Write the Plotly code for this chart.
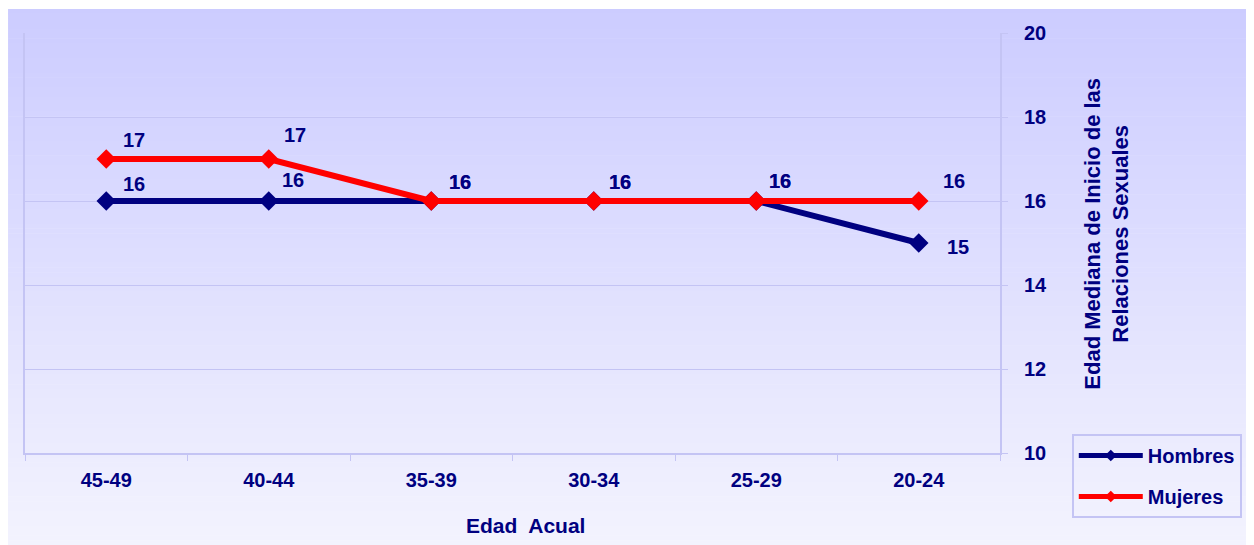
import plotly.graph_objects as go

categories = ["45-49", "40-44", "35-39", "30-34", "25-29", "20-24"]
hombres = [16, 16, 16, 16, 16, 15]
mujeres = [17, 17, 16, 16, 16, 16]
y_ticks = [10, 12, 14, 16, 18, 20]

NAVY = "#000080"
RED = "#FF0000"
GRID = "#C4C4F4"
FONT = "Arial, Liberation Sans, sans-serif"

# label offsets in pixels (style only)
h_dx = [28, 24, 29, 26, 24, 39]
h_dy = [17, 21, 19, 19, 20, -4]
m_dx = [28, 26, 29, 26, 24, 35]
m_dy = [19, 24, 19, 19, 20, 20]

W, H = 1246, 537          # page is offset 8px by body margin
L, T, PW, PH = 17, 25, 978, 420

fig = go.Figure()

fig.add_trace(go.Scatter(
    x=categories, y=hombres, mode="lines+markers", name="Hombres",
    line=dict(color=NAVY, width=6), marker=dict(symbol="diamond", size=15, color=NAVY),
    showlegend=False, cliponaxis=False,
))
fig.add_trace(go.Scatter(
    x=categories, y=mujeres, mode="lines+markers", name="Mujeres",
    line=dict(color=RED, width=6), marker=dict(symbol="diamond", size=15, color=RED),
    showlegend=False, cliponaxis=False,
))
# legend entries
fig.add_trace(go.Scatter(
    x=[None], y=[None], mode="lines+markers", name="Hombres", legendgroup="h",
    line=dict(color=NAVY, width=5), marker=dict(symbol="diamond", size=9, color=NAVY),
))
fig.add_trace(go.Scatter(
    x=[None], y=[None], mode="lines+markers", name="Mujeres", legendgroup="m",
    line=dict(color=RED, width=5), marker=dict(symbol="diamond", size=9, color=RED),
))

annotations = []
label_font = dict(family=FONT, size=20, color=NAVY, weight="bold")
for series, dxs, dys in ((hombres, h_dx, h_dy), (mujeres, m_dx, m_dy)):
    for cat, v, dx, dy in zip(categories, series, dxs, dys):
        annotations.append(dict(
            x=cat, y=v, xref="x", yref="y", text=str(v), showarrow=False,
            xanchor="center", yanchor="middle", xshift=dx, yshift=dy, font=label_font,
        ))

annotations.append(dict(
    text="Edad Mediana de Inicio de las<br>Relaciones Sexuales",
    xref="paper", yref="paper", x=(1110 - 8 - L) / PW, y=(T + PH - (234 - 8)) / PH,
    xanchor="center", yanchor="middle", textangle=-90, showarrow=False,
    font=dict(family=FONT, size=22, color=NAVY, weight="bold"),
))
annotations.append(dict(
    text="Edad  Acual",
    xref="paper", yref="paper", x=(527 - 8 - L) / PW, y=(T + PH - (525 - 8)) / PH,
    xanchor="center", yanchor="middle", showarrow=False,
    font=dict(family=FONT, size=21, color=NAVY, weight="bold"),
))

# gradient background bands
shapes = []
top_c = (204, 204, 255)
bot_c = (243, 243, 254)
fy_top, fy_bot = 1, H
n = 110
for i in range(n):
    f0 = i / n
    f1 = (i + 1) / n
    py0 = fy_top + (fy_bot - fy_top) * f0
    py1 = fy_top + (fy_bot - fy_top) * f1 + 0.6
    fm = (i + 0.5) / n
    c = tuple(round(top_c[k] + (bot_c[k] - top_c[k]) * fm) for k in range(3))
    shapes.append(dict(
        type="rect", xref="paper", yref="paper", layer="below",
        x0=(0 - L) / PW, x1=(W + 10 - L) / PW,
        y0=(T + PH - py1) / PH, y1=(T + PH - py0) / PH,
        fillcolor=f"rgb{c}", line=dict(width=0),
    ))

fig.update_layout(
    width=W, height=H,
    margin=dict(l=L, r=W - L - PW, t=T, b=H - T - PH),
    paper_bgcolor="white", plot_bgcolor="rgba(0,0,0,0)",
    shapes=shapes, annotations=annotations,
    font=dict(family=FONT, color=NAVY),
    legend=dict(
        x=(1075 - 25) / 978, y=(453 - 434) / 420, xanchor="left", yanchor="top",
        bordercolor=GRID, borderwidth=2, bgcolor="rgba(0,0,0,0)",
        font=dict(family=FONT, size=20, color=NAVY, weight="bold"),
        traceorder="grouped", tracegroupgap=12, itemwidth=64,
    ),
    xaxis=dict(
        type="category", categoryorder="array", categoryarray=categories,
        range=[-0.5, len(categories) - 0.5],
        showgrid=False, showline=True, linecolor=GRID, linewidth=2,
        ticks="outside", tickson="boundaries", ticklen=6, tickcolor=GRID,
        ticklabelstandoff=8,
        tickfont=dict(family=FONT, size=20, color=NAVY, weight="bold"),
        zeroline=False,
    ),
    yaxis=dict(
        side="right", range=[10, 20], tickvals=y_ticks,
        showgrid=True, gridcolor=GRID, gridwidth=1,
        showline=True, linecolor=GRID, linewidth=2, mirror=True,
        ticks="outside", ticklen=6, tickcolor=GRID, ticklabelstandoff=12,
        tickfont=dict(family=FONT, size=20, color=NAVY, weight="bold"),
        zeroline=False,
    ),
)

fig.write_html("out.html")
